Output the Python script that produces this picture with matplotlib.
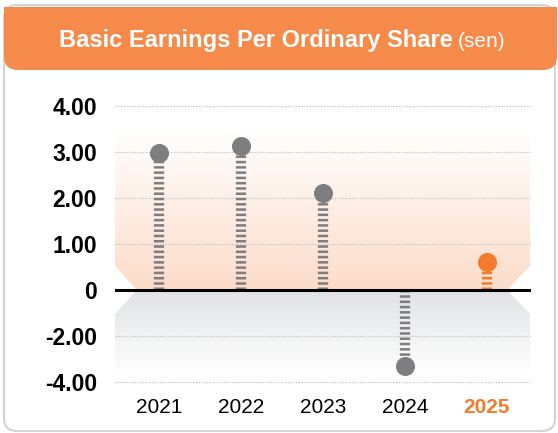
import numpy as np
import matplotlib
matplotlib.use("Agg")
import matplotlib.pyplot as plt
from matplotlib.patches import FancyBboxPatch, Rectangle, Polygon

plt.rcParams['font.family'] = ['Liberation Sans', 'DejaVu Sans']
plt.rcParams['lines.scale_dashes'] = False

# data
years = ['2021', '2022', '2023', '2024', '2025']
eps = [2.97, 3.14, 2.10, -3.30, 0.60]
yticks = [4, 3, 2, 1, 0, -2, -4]
ytick_labels = ['4.00', '3.00', '2.00', '1.00', '0', '-2.00', '-4.00']

GREY = '#7e7e80'
ORANGE = '#f47b2c'
HEADER = '#f58a4a'

W, H = 558, 433
fig = plt.figure(figsize=(W / 100, H / 100), dpi=100)
fig.patch.set_facecolor('white')

# background layer in pixel coords
bg = fig.add_axes([0, 0, 1, 1], zorder=0)
bg.set_xlim(0, W)
bg.set_ylim(H, 0)
bg.axis('off')

card = FancyBboxPatch((4, 5), 551, 426, boxstyle='round,pad=0,rounding_size=13',
                      facecolor='white', edgecolor='#d4d4d4', linewidth=1.5)
bg.add_patch(card)
head = FancyBboxPatch((4, 7), 553, 63, boxstyle='round,pad=0,rounding_size=14',
                      facecolor=HEADER, edgecolor='none')
bg.add_patch(head)
bg.add_patch(Rectangle((4, 7), 553, 30, facecolor=HEADER, edgecolor='none'))
bg.text(453, 47, 'Basic Earnings Per Ordinary Share', color='white', fontsize=17,
        fontweight='bold', ha='right', va='baseline')
bg.text(458, 47, '(sen)', color='white', fontsize=15, ha='left', va='baseline')

# peach gradient panel (positive side)
top_c = np.array([255, 255, 255]) / 255
bot_c = np.array([252, 220, 202]) / 255
t = np.linspace(0, 1, 200)[:, None, None]
grad = top_c * (1 - t) + bot_c * t
im = bg.imshow(grad, extent=[115, 530, 290, 128], origin='upper', aspect='auto', zorder=1)
poly = Polygon([(115, 128), (530, 128), (530, 266), (507, 290), (137, 290), (115, 266)],
               closed=True, transform=bg.transData)
im.set_clip_path(poly)

# grey gradient panel (negative side)
top_g = np.array([225, 226, 228]) / 255
bot_g = np.array([255, 255, 255]) / 255
t2 = np.clip(np.linspace(0, 1.25, 200), 0, 1)[:, None, None]
grad2 = top_g * (1 - t2) + bot_g * t2
im2 = bg.imshow(grad2, extent=[115, 530, 395, 290], origin='upper', aspect='auto', zorder=1)
poly2 = Polygon([(137, 290), (507, 290), (530, 314), (530, 395), (115, 395), (115, 314)],
                closed=True, transform=bg.transData)
im2.set_clip_path(poly2)

# data axes with a split scale: negative side compressed by 2
def fwd(v):
    v = np.asarray(v, dtype=float)
    return np.where(v >= 0, v, v / 2)

def inv(v):
    v = np.asarray(v, dtype=float)
    return np.where(v >= 0, v, v * 2)

ax = fig.add_axes([115 / W, 1 - 395 / H, (531 - 115) / W, 295 / H], zorder=2)
ax.patch.set_visible(False)
ax.set_yscale('function', functions=(fwd, inv))
ax.set_ylim(-2 * (105 / 46), 190 / 46)
x = np.arange(len(years))
ax.set_xlim(-0.5366, len(years) - 1 + 0.5366)

for s in ax.spines.values():
    s.set_visible(False)

ax.set_yticks(yticks)
ax.set_yticklabels(ytick_labels, fontsize=16.5, fontweight='bold')
ax.tick_params(axis='y', length=0, pad=13)
ax.set_xticks(x)
ax.set_xticklabels(years, fontsize=15)
ax.tick_params(axis='x', length=0, pad=2)
lab = ax.get_xticklabels()[-1]
lab.set_color(ORANGE)
lab.set_fontweight('bold')

ax.grid(axis='y', color='#b9b9b9', linestyle=(0, (0.8, 1.2)), linewidth=0.8)
ax.set_axisbelow(True)

colors = [GREY] * (len(years) - 1) + [ORANGE]
ax.vlines(x, 0, eps, colors=colors, linewidth=7.4, linestyles=[(0, (1.8, 2.0))], zorder=3)
for xi, v, c in zip(x, eps, colors):
    ax.plot(xi, v, 'o', color=c, markersize=13.7, markeredgewidth=0, zorder=4)
ax.axhline(0, color='black', linewidth=2.2, zorder=5)

fig.savefig('out.png', dpi=100)
